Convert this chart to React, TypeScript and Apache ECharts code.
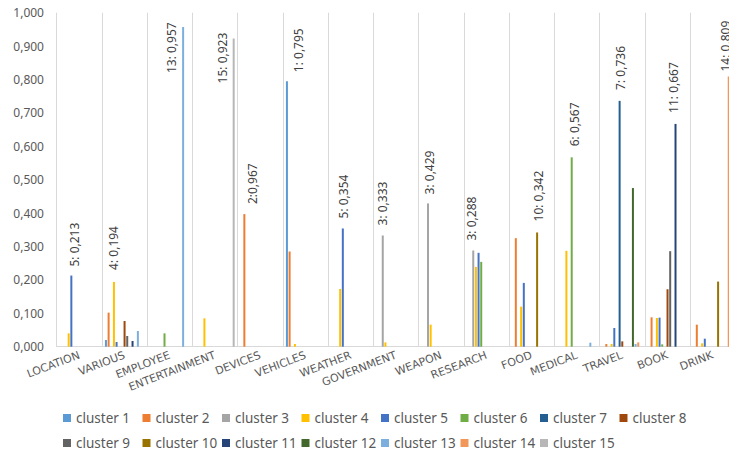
import React, { useEffect, useRef } from "react";
import * as echarts from "echarts";

// Topic categories along the x axis
const categories = [
  "LOCATION", "VARIOUS", "EMPLOYEE", "ENTERTAINMENT", "DEVICES", "VEHICLES", "WEATHER",
  "GOVERNMENT", "WEAPON", "RESEARCH", "FOOD", "MEDICAL", "TRAVEL", "BOOK", "DRINK",
];

// Share of each category per cluster (same order as categories)
const cluster1 = [0, 0.02, 0, 0, 0, 0.795, 0, 0, 0, 0, 0, 0, 0, 0, 0];
const cluster2 = [0, 0.102, 0, 0, 0.397, 0.285, 0, 0, 0, 0, 0.325, 0, 0.008, 0.088, 0.066];
const cluster3 = [0, 0, 0, 0, 0, 0, 0, 0.333, 0.429, 0.288, 0, 0, 0, 0, 0];
const cluster4 = [0.04, 0.194, 0, 0.085, 0, 0.008, 0.173, 0.013, 0.066, 0.239, 0.12, 0.287, 0.008, 0.086, 0.01];
const cluster5 = [0.213, 0.014, 0, 0, 0, 0, 0.354, 0, 0, 0.281, 0.191, 0, 0.056, 0.087, 0.024];
const cluster6 = [0, 0, 0.04, 0, 0, 0, 0, 0, 0, 0.254, 0, 0.567, 0, 0.007, 0];
const cluster7 = [0, 0, 0, 0, 0, 0, 0, 0, 0, 0, 0, 0, 0.736, 0, 0];
const cluster8 = [0, 0.077, 0, 0, 0, 0, 0, 0, 0, 0, 0, 0, 0.016, 0.172, 0];
const cluster9 = [0, 0.032, 0, 0, 0, 0, 0, 0, 0, 0, 0, 0, 0, 0.286, 0];
const cluster10 = [0, 0, 0, 0, 0, 0, 0, 0, 0, 0, 0.342, 0, 0, 0, 0.195];
const cluster11 = [0, 0.017, 0, 0, 0, 0, 0, 0, 0, 0, 0, 0, 0, 0.667, 0];
const cluster12 = [0, 0, 0, 0, 0, 0, 0, 0, 0, 0, 0, 0, 0.475, 0, 0];
const cluster13 = [0, 0.047, 0.957, 0, 0, 0, 0, 0, 0, 0, 0, 0.012, 0.008, 0, 0];
const cluster14 = [0, 0, 0, 0, 0, 0, 0, 0, 0, 0, 0, 0, 0.013, 0, 0.809];
const cluster15 = [0, 0, 0, 0.923, 0, 0, 0, 0, 0, 0, 0, 0, 0, 0, 0];

const clusters = [
  cluster1, cluster2, cluster3, cluster4, cluster5, cluster6, cluster7, cluster8,
  cluster9, cluster10, cluster11, cluster12, cluster13, cluster14, cluster15,
];

// Leading cluster annotated in each category
const peakLabels = [
  { category: "LOCATION", cluster: 5, text: "5: 0,213" },
  { category: "VARIOUS", cluster: 4, text: "4: 0,194" },
  { category: "EMPLOYEE", cluster: 13, text: "13: 0,957" },
  { category: "ENTERTAINMENT", cluster: 15, text: "15: 0,923" },
  { category: "DEVICES", cluster: 2, text: "2:0,967" },
  { category: "VEHICLES", cluster: 1, text: "1: 0,795" },
  { category: "WEATHER", cluster: 5, text: "5: 0,354" },
  { category: "GOVERNMENT", cluster: 3, text: "3: 0,333" },
  { category: "WEAPON", cluster: 3, text: "3: 0,429" },
  { category: "RESEARCH", cluster: 3, text: "3: 0,288" },
  { category: "FOOD", cluster: 10, text: "10: 0,342" },
  { category: "MEDICAL", cluster: 6, text: "6: 0,567" },
  { category: "TRAVEL", cluster: 7, text: "7: 0,736" },
  { category: "BOOK", cluster: 11, text: "11: 0,667" },
  { category: "DRINK", cluster: 14, text: "14: 0,809" },
];

const yTicks = [0, 0.1, 0.2, 0.3, 0.4, 0.5, 0.6, 0.7, 0.8, 0.9, 1.0];

const palette = [
  "#5B9BD5", "#ED7D31", "#A5A5A5", "#FFC000", "#4472C4", "#70AD47", "#255E91", "#9E480E",
  "#636363", "#997300", "#264478", "#43682B", "#7CAFDD", "#F1975A", "#B7B7B7",
];

// Screen-space shift [right, down] of each rotated annotation from its bar top
const labelNudge: Record<string, [number, number]> = {
  LOCATION: [3, -9],
  VARIOUS: [0, -12],
  EMPLOYEE: [-12, 46],
  ENTERTAINMENT: [-11, 45],
  DEVICES: [8, -10],
  VEHICLES: [12, -9],
  WEATHER: [1, -10],
  GOVERNMENT: [0, -10],
  WEAPON: [2, -9],
  RESEARCH: [-2, -10],
  FOOD: [1, -11],
  MEDICAL: [3, -11],
  TRAVEL: [1, -11],
  BOOK: [-2, -11],
  DRINK: [-3, -5],
};

const GRID = "#D9D9D9";
const TEXT = "#595959";
const FONT = "'Noto Sans', sans-serif";

const fmt = (v: number) => v.toFixed(3).replace(".", ",");

// label.offset is expressed in the text's own (rotated by 90°) frame
const toRotatedOffset = ([sx, sy]: [number, number]) => [-sy, sx];

export default function App() {
  const ref = useRef<HTMLDivElement>(null);

  useEffect(() => {
    if (!ref.current) return;
    const chart = echarts.init(ref.current, undefined, { renderer: "svg" });
    const names = clusters.map((_, i) => `cluster ${i + 1}`);

    const series = clusters.map((values, i) => ({
      type: "bar",
      name: names[i],
      barWidth: 2,
      barGap: "33%",
      itemStyle: { color: palette[i] },
      label: {
        show: false,
        position: "top",
        rotate: 90,
        align: "left",
        verticalAlign: "middle",
        distance: 0,
        fontSize: 12,
        fontFamily: FONT,
        color: "#404040",
      },
      data: values.map((v, j) => {
        const lab = peakLabels.find(
          (p) => p.cluster === i + 1 && p.category === categories[j]
        );
        if (!lab) return v;
        return {
          value: v,
          label: {
            show: true,
            formatter: lab.text,
            offset: toRotatedOffset(labelNudge[lab.category]),
          },
        };
      }),
    }));

    const legendBase = {
      left: 63,
      padding: 0,
      orient: "horizontal",
      icon: "rect",
      itemWidth: 8,
      itemHeight: 8,
      itemGap: 3.5,
      textStyle: { fontSize: 13.5, fontFamily: FONT, color: TEXT, width: 63, overflow: "none", lineHeight: 16 },
    };

    chart.setOption({
      animation: false,
      backgroundColor: "#ffffff",
      grid: { left: 56.7, top: 12.7, bottom: 108.3, right: 0.6, containLabel: false },
      legend: [
        { ...legendBase, top: 410, data: names.slice(0, 8) },
        { ...legendBase, top: 435, data: names.slice(8) },
      ],
      xAxis: {
        type: "category",
        data: categories,
        axisLine: { lineStyle: { color: GRID, width: 1 } },
        axisTick: { show: false },
        splitLine: { show: true, interval: 0, lineStyle: { color: GRID, width: 1 } },
        axisLabel: {
          interval: 0,
          rotate: 21,
          margin: 8,
          fontSize: 11,
          fontFamily: "'DejaVu Sans', sans-serif",
          color: TEXT,
        },
      },
      yAxis: {
        type: "value",
        min: yTicks[0],
        max: yTicks[yTicks.length - 1],
        interval: 0.1,
        axisLine: { show: false },
        axisTick: { show: false },
        splitLine: { show: false },
        axisLabel: {
          margin: 12.7,
          fontSize: 12,
          fontFamily: FONT,
          color: TEXT,
          formatter: (v: number) => fmt(v),
        },
      },
      series,
    });

    return () => chart.dispose();
  }, []);

  return (
    <div
      style={{
        position: "fixed",
        left: 0,
        top: 0,
        width: 729,
        height: 455,
        overflow: "hidden",
        background: "#fff",
      }}
    >
      <div ref={ref} style={{ width: 736, height: 455 }} />
    </div>
  );
}
